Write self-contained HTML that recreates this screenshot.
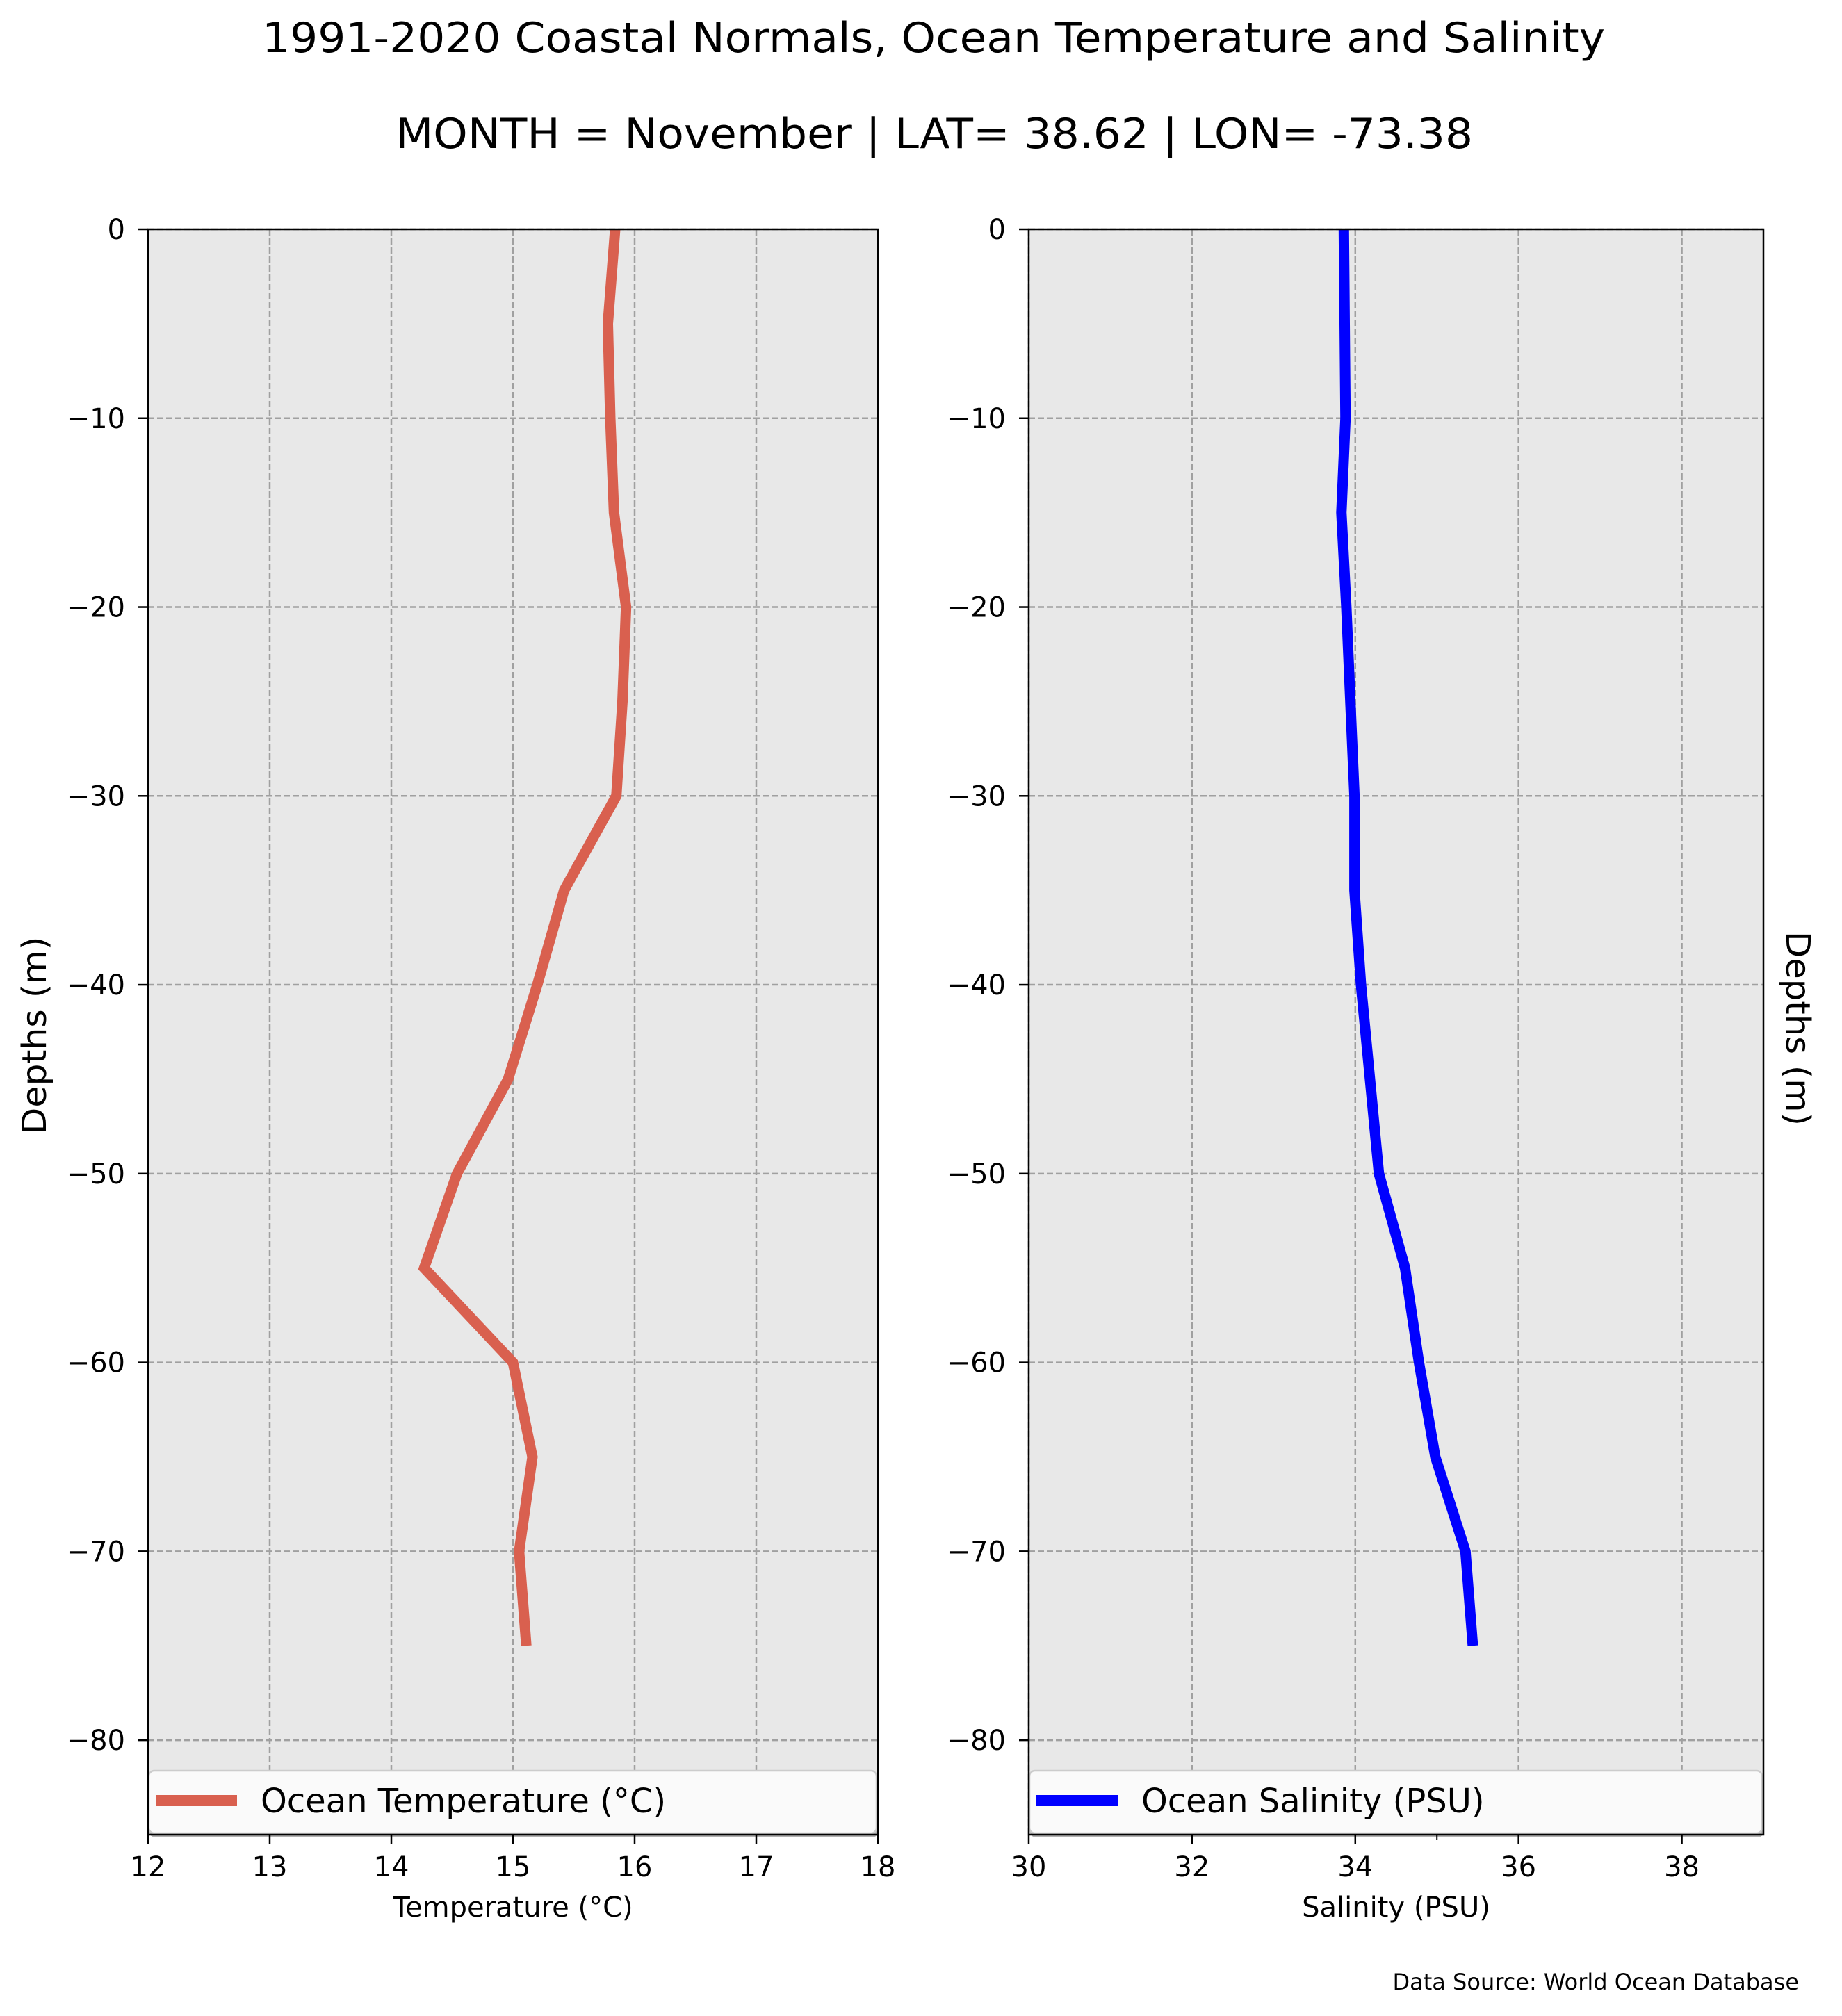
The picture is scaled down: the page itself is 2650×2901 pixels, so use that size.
<!DOCTYPE html>
<html><head><meta charset="utf-8"><style>
html,body{margin:0;padding:0;background:#fff;}
svg{display:block;font-family:"DejaVu Sans","Liberation Sans",sans-serif;}
</style></head><body>
<svg id="fig" width="2650" height="2901" viewBox="0 0 2650 2901" xmlns="http://www.w3.org/2000/svg">
<text x="1343" y="75" font-size="60" text-anchor="middle" textLength="1932" lengthAdjust="spacingAndGlyphs">1991-2020 Coastal Normals, Ocean Temperature and Salinity</text>
<text x="1344" y="213" font-size="60" text-anchor="middle" textLength="1550" lengthAdjust="spacingAndGlyphs">MONTH = November | LAT= 38.62 | LON= -73.38</text>
<g id="p1"></g>
<g id="p2"></g>
<text x="2588" y="2863" font-size="32" text-anchor="end">Data Source: World Ocean Database</text>
</svg>
<script>
const depths = [0,-5,-10,-15,-20,-25,-30,-35,-40,-45,-50,-55,-60,-65,-70,-75];
const temperature = [15.84,15.78,15.80,15.83,15.93,15.90,15.85,15.42,15.20,14.96,14.54,14.27,15.00,15.16,15.05,15.11];
const salinity = [33.86,33.87,33.88,33.83,33.89,33.94,33.99,33.99,34.07,34.18,34.29,34.61,34.78,34.98,35.35,35.44];
const depthTicks = [0,-10,-20,-30,-40,-50,-60,-70,-80];
const tempTicks = [12,13,14,15,16,17,18];
const salTicks = [30,32,34,36,38];

const NS="http://www.w3.org/2000/svg";
function mk(parent,tag,attrs,text){const e=document.createElementNS(NS,tag);for(const k in attrs)e.setAttribute(k,attrs[k]);if(text!==undefined)e.textContent=text;parent.appendChild(e);return e;}

const plotTop=330, plotBottomY=2640, yMin=-85, yMax=0;
function yScale(v){return plotTop+(yMax-v)/(yMax-yMin)*(plotBottomY-plotTop);}

function panel(g,cfg){
  const L=cfg.left,R=cfg.right;
  const xs=v=>L+(v-cfg.xmin)/(cfg.xmax-cfg.xmin)*(R-L);
  let e=mk(g,'rect',{x:L,y:plotTop,width:R-L,height:plotBottomY-plotTop,fill:'#e8e8e8'});
  
  
  cfg.xticks.forEach(t=>{
    let gl=mk(g,'line',{x1:xs(t),x2:xs(t),y1:plotTop,y2:plotBottomY,stroke:'#a0a0a0','stroke-width':2.5,'stroke-dasharray':'9,4'});
    
    
  });
  depthTicks.forEach(t=>{
    let gl=mk(g,'line',{x1:L,x2:R,y1:yScale(t),y2:yScale(t),stroke:'#a0a0a0','stroke-width':2.5,'stroke-dasharray':'9,4'});
    
    
  });
  const pts=depths.map((d,i)=>xs(cfg.values[i]).toFixed(1)+','+yScale(d).toFixed(1)).join(' ');
  let ln=mk(g,'polyline',{points:pts,fill:'none',stroke:cfg.color,'stroke-width':15,'stroke-linejoin':'miter'});
  
  
  let sh=mk(g,'rect',{x:L+2,y:2552,width:R-L-2,height:92,rx:8,fill:'#b0b0b0'});
  
  
  let lb=mk(g,'rect',{x:L+1,y:2548,width:R-L-3,height:90,rx:8,fill:'#fafafa',stroke:'#cccccc','stroke-width':2.5});
  
  
  let ls=mk(g,'line',{x1:L+11,x2:L+128,y1:2591,y2:2591,stroke:cfg.color,'stroke-width':16});
  
  
  let lt=mk(g,'text',{x:L+162,y:2608,'font-size':48},cfg.legend);
  
  
  let sp=mk(g,'rect',{x:L,y:plotTop,width:R-L,height:plotBottomY-plotTop,fill:'none',stroke:'#000','stroke-width':2.5});
  
  
  cfg.xticks.forEach((t,i)=>{
    let tk=mk(g,'line',{x1:xs(t),x2:xs(t),y1:plotBottomY,y2:plotBottomY+14,stroke:'#000','stroke-width':2.5});
    
    
    let tl=mk(g,'text',{x:xs(t),y:2700,'font-size':40,'text-anchor':'middle'},String(cfg.xticks[i]));
    
    
  });
  (cfg.minor||[]).forEach(t=>{
    let tk=mk(g,'line',{x1:xs(t),x2:xs(t),y1:plotBottomY,y2:plotBottomY+8,stroke:'#000','stroke-width':2});
    
    
  });
  depthTicks.forEach(t=>{
    let tk=mk(g,'line',{x1:L-14,x2:L,y1:yScale(t),y2:yScale(t),stroke:'#000','stroke-width':2.5});
    
    
    let tl=mk(g,'text',{x:L-33,y:yScale(t)+14,'font-size':40,'text-anchor':'end'},t<0?'\u2212'+Math.abs(t):String(t));
    
    
  });
  let xl=mk(g,'text',{x:(L+R)/2,y:2758,'font-size':40,'text-anchor':'middle'},cfg.xlabel);
  
  
}
panel(document.getElementById('p1'),{left:213,right:1263,xmin:12,xmax:18,xticks:tempTicks,values:temperature,color:'#d9604f',lineName:'temperature-line',legend:'Ocean Temperature (\u00b0C)',xlabel:'Temperature (\u00b0C)'});
panel(document.getElementById('p2'),{left:1480,right:2537,xmin:30,xmax:39,xticks:salTicks,minor:[35],values:salinity,color:'#0000ff',lineName:'salinity-line',legend:'Ocean Salinity (PSU)',xlabel:'Salinity (PSU)'});
const svgEl=document.getElementById('fig');
let y1=mk(svgEl,'text',{x:0,y:0,'font-size':48,'text-anchor':'middle',transform:'translate(66,1490) rotate(-90)',textLength:285,lengthAdjust:'spacingAndGlyphs'},'Depths (m)');


let y2=mk(svgEl,'text',{x:0,y:0,'font-size':48,'text-anchor':'middle',transform:'translate(2570,1480) rotate(90)',textLength:280,lengthAdjust:'spacingAndGlyphs'},'Depths (m)');


</script>
</body></html>
